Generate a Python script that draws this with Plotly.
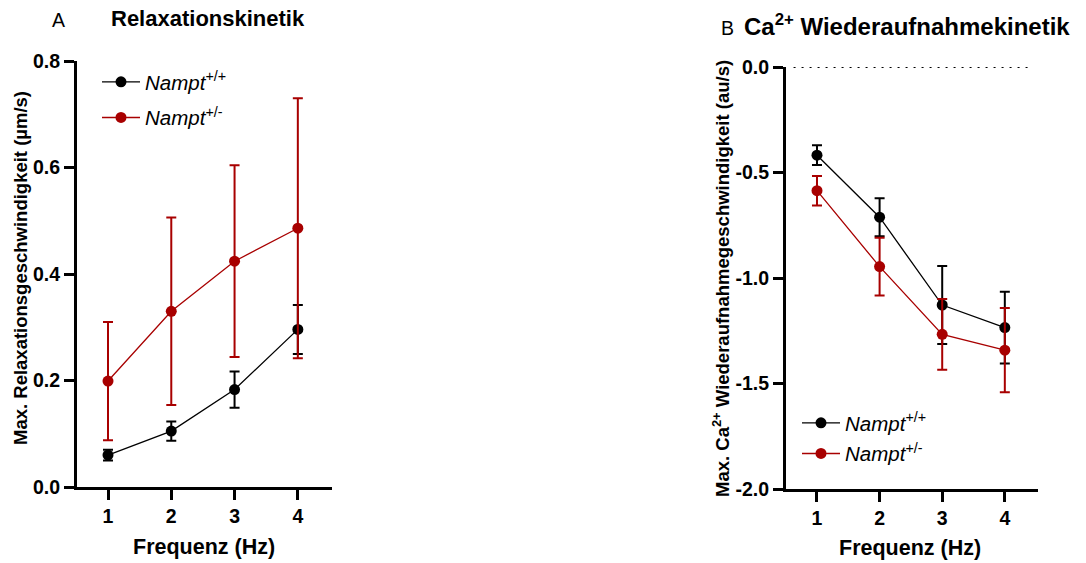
import plotly.graph_objects as go

# ---------------- data ----------------
freq = [1, 2, 3, 4]
x_ticks = [1, 2, 3, 4]
x_tick_labels = ["1", "2", "3", "4"]

# Panel A: Relaxationskinetik (µm/s)
relax_wt = [0.060, 0.105, 0.183, 0.296]
relax_wt_err = [0.010, 0.018, 0.034, 0.046]
relax_het = [0.199, 0.330, 0.424, 0.486]
relax_het_err = [0.111, 0.176, 0.180, 0.244]

# Panel B: Ca2+ Wiederaufnahmekinetik (au/s)
ca_wt = [-0.418, -0.712, -1.128, -1.235]
ca_wt_err = [0.047, 0.090, 0.185, 0.170]
ca_het = [-0.586, -0.946, -1.267, -1.342]
ca_het_err = [0.070, 0.137, 0.168, 0.200]

yA_ticks = [0.0, 0.2, 0.4, 0.6, 0.8]
yA_tick_labels = ["0.0", "0.2", "0.4", "0.6", "0.8"]
yB_ticks = [0.0, -0.5, -1.0, -1.5, -2.0]
yB_tick_labels = ["0.0", "-0.5", "-1.0", "-1.5", "-2.0"]

BLACK = "#000000"
RED = "#A80000"
FONT = "Arial, Liberation Sans, sans-serif"
W, H = 1086, 563

fig = go.Figure()


def add_series(x, y, err, color, name, xa, ya, legend, group):
    fig.add_trace(go.Scatter(
        x=x, y=y, mode="lines+markers", name=name,
        xaxis=xa, yaxis=ya, legend=legend, legendgroup=group, showlegend=True,
        line=dict(color=color, width=1.3),
        marker=dict(color=color, size=11),
        error_y=dict(type="data", array=err, visible=True,
                     color=color, thickness=2, width=5),
    ))


wt_name = "<i>Nampt</i><sup>+/+</sup>"
het_name = "<i>Nampt</i><sup>+/-</sup>"

add_series(freq, relax_wt, relax_wt_err, BLACK, wt_name, "x", "y", "legend", "a1")
add_series(freq, relax_het, relax_het_err, RED, het_name, "x", "y", "legend", "a2")
add_series(freq, ca_wt, ca_wt_err, BLACK, wt_name, "x2", "y2", "legend2", "b1")
add_series(freq, ca_het, ca_het_err, RED, het_name, "x2", "y2", "legend2", "b2")

axis_common = dict(
    showline=True, linewidth=3, linecolor="black", mirror=False,
    ticks="outside", tickwidth=3, ticklen=10, tickcolor="black",
    showgrid=False, zeroline=False, automargin=False,
    tickfont=dict(family=FONT, size=19.5, color="black", weight="bold"),
)

fig.update_layout(
    template="none",
    width=W, height=H,
    margin=dict(l=0, r=0, t=0, b=0, pad=0, autoexpand=False),
    paper_bgcolor="white", plot_bgcolor="white",
    font=dict(family=FONT, color="black"),
    xaxis=dict(domain=[77 / W, 332 / W], range=[0.51, 4.54], anchor="y",
               tickvals=x_ticks, ticktext=x_tick_labels, **axis_common),
    yaxis=dict(domain=[1 - 487 / H, 1 - 61 / H], range=[0, 0.8], anchor="x",
               tickvals=yA_ticks, ticktext=yA_tick_labels, **axis_common),
    xaxis2=dict(domain=[786 / W, 1038 / W], range=[0.505, 4.53], anchor="y2",
                tickvals=x_ticks, ticktext=x_tick_labels, **axis_common),
    yaxis2=dict(domain=[1 - 489 / H, 1 - 67 / H], range=[-2.0, 0.0], anchor="x2",
                tickvals=yB_ticks, ticktext=yB_tick_labels, **axis_common),
    legend=dict(x=97 / W, y=1 - 62 / H, xanchor="left", yanchor="top",
                bgcolor="rgba(0,0,0,0)", font=dict(family=FONT, size=20.5, color="black"),
                itemwidth=38, tracegroupgap=6),
    legend2=dict(x=797 / W, y=1 - 403 / H, xanchor="left", yanchor="top",
                 bgcolor="rgba(0,0,0,0)", font=dict(family=FONT, size=20.5, color="black"),
                 itemwidth=38, tracegroupgap=1),
    showlegend=True,
)

# dotted zero reference line in panel B
fig.add_shape(type="line", xref="x2 domain", yref="y2", x0=0.03, x1=0.98, y0=0, y1=0,
              line=dict(color="black", width=2, dash="2px,6px"))

ann = []
ann.append(dict(text="A", x=50 / W, y=1 - 20 / H, xanchor="left", yanchor="middle",
                font=dict(size=19.5, family=FONT)))
ann.append(dict(text="<b>Relaxationskinetik</b>", x=109 / W, y=1 - 19 / H, xanchor="left",
                yanchor="middle", font=dict(size=22, family=FONT)))
ann.append(dict(text="B", x=719 / W, y=1 - 28 / H, xanchor="left", yanchor="middle",
                font=dict(size=19.5, family=FONT)))
ann.append(dict(text="<b>Ca<sup>2+</sup> Wiederaufnahmekinetik</b>", x=742 / W, y=1 - 25 / H,
                xanchor="left", yanchor="middle", font=dict(size=24, family=FONT)))
ann.append(dict(text="<b>Frequenz (Hz)</b>", x=204 / W, y=1 - 547 / H, xanchor="center",
                yanchor="middle", font=dict(size=21.5, family=FONT)))
ann.append(dict(text="<b>Frequenz (Hz)</b>", x=910 / W, y=1 - 548 / H, xanchor="center",
                yanchor="middle", font=dict(size=21.5, family=FONT)))
ann.append(dict(text="<b>Max. Relaxationsgeschwindigkeit (µm/s)</b>", x=20 / W,
                y=1 - 268 / H, xanchor="center", yanchor="middle", textangle=-90,
                font=dict(size=18.5, family=FONT)))
ann.append(dict(text="<b>Max. Ca<sup>2+</sup> Wiederaufnahmegeschwindigkeit (au/s)</b>",
                x=721 / W, y=1 - 279 / H, xanchor="center", yanchor="middle", textangle=-90,
                font=dict(size=18.5, family=FONT)))
for a in ann:
    a.update(xref="paper", yref="paper", showarrow=False)
fig.update_layout(annotations=ann)

fig.write_html("out.html")
